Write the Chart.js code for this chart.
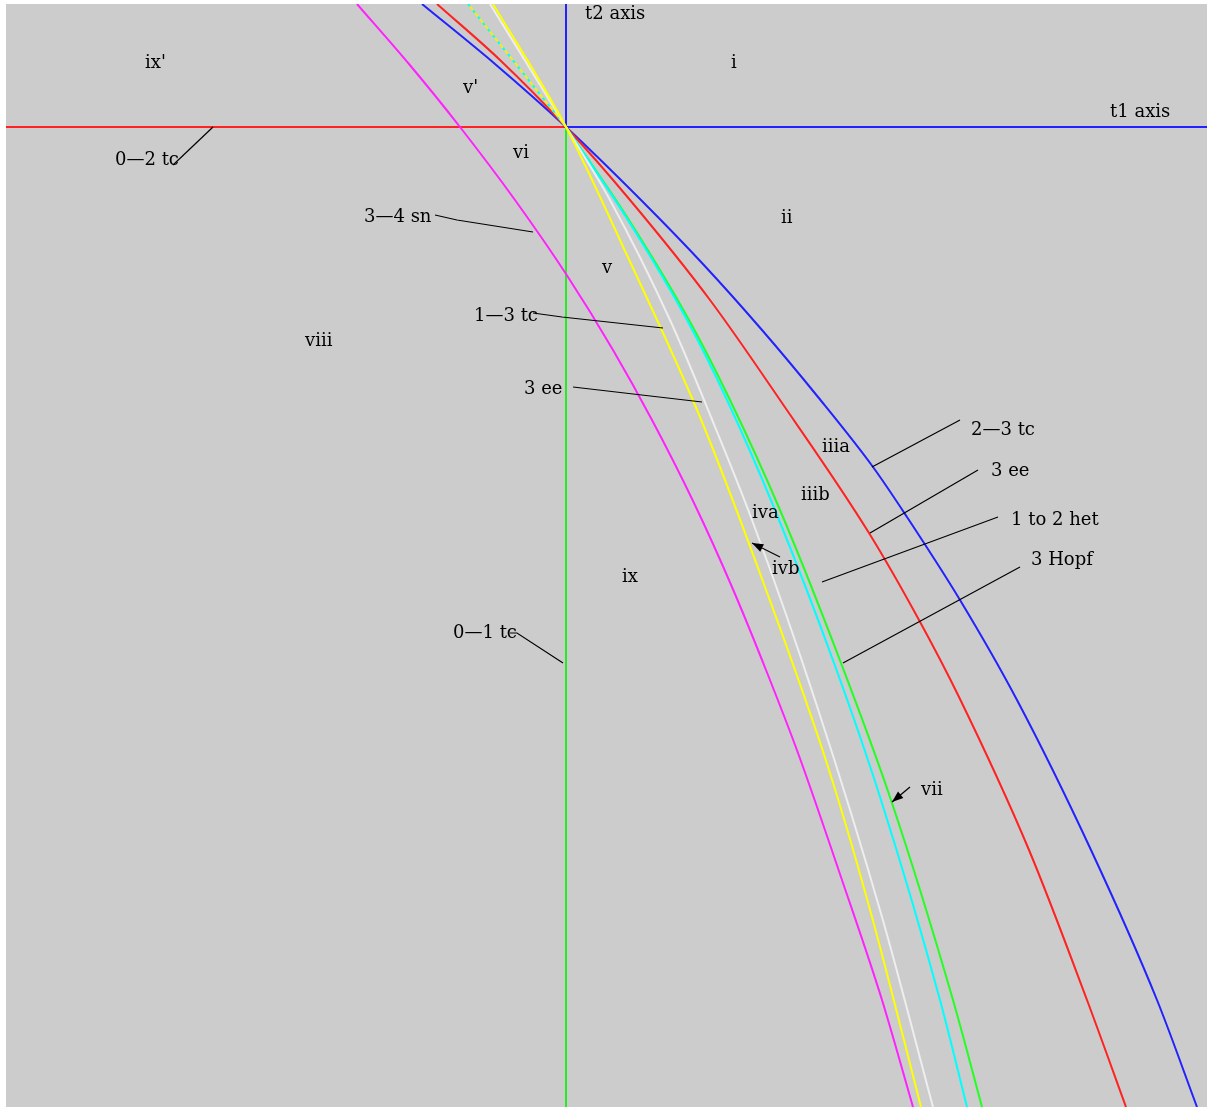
<!DOCTYPE html>
<html>
<head>
<meta charset="utf-8">
<script src="https://cdn.jsdelivr.net/npm/chart.js@4.4.1/dist/chart.umd.min.js"></script>
<style>
  body { margin: 0; background: #fff; }
  canvas { display: block; }
</style>
</head>
<body>
<canvas id="chart_0" width="1207" height="1110"></canvas>
<script>
// plot window (t1, t2), no ticks in the figure so units are arbitrary
var t1Range = [-5.60, 6.41];
var t2Range = [-9.80, 1.23];

// bifurcation curves as [t1, t2]
var blue23tc = [[-1.44,1.23],[-0.71,0.63],[0,0],[0.75,-0.73],[1.36,-1.36],[1.96,-2.03],[2.52,-2.70],[3.07,-3.40],
  [3.41,-3.90],[3.94,-4.73],[4.51,-5.73],[5.25,-7.23],[5.91,-8.73],[6.31,-9.80]];
var red3ee = [[-1.29,1.23],[-0.66,0.67],[0,0],[0.64,-0.73],[1.44,-1.73],[2.14,-2.73],[3.03,-4.06],[3.53,-4.93],
  [3.93,-5.70],[4.63,-7.23],[5.21,-8.73],[5.60,-9.80]];
var green3hopf = [[0,0],[0.61,-0.90],[1.23,-1.93],[1.64,-2.73],[2.14,-3.83],[2.75,-5.36],[3.25,-6.73],[3.87,-8.73],[4.16,-9.80]];
var cyanHet = [[0,0],[0.60,-0.90],[1.21,-1.93],[1.61,-2.73],[2.09,-3.83],[2.68,-5.36],[3.15,-6.73],[3.74,-8.73],[4.01,-9.80]];
var cyanUpper = [[-0.98,1.23],[0,0]];
var white3ee = [[-0.76,1.23],[0,0],[0.44,-0.73],[1.04,-1.93],[1.45,-2.90],[1.86,-3.93],[2.50,-5.76],[3.16,-7.90],[3.67,-9.80]];
var yellow13tc = [[-0.73,1.23],[0,0],[0.60,-1.26],[1.34,-2.90],[1.99,-4.60],[2.63,-6.43],[3.06,-7.90],[3.55,-9.80]];
var magenta34sn = [[-2.09,1.23],[-1.57,0.63],[-1.06,0],[-0.51,-0.73],[0.02,-1.50],[0.47,-2.23],[0.86,-2.93],[1.28,-3.76],
  [1.66,-4.60],[2.00,-5.43],[2.32,-6.26],[2.76,-7.53],[3.16,-8.73],[3.47,-9.80]];

// region names and curve names: [text, t1, t2]
var regionLabels = [
  ["t2 axis",0.19,1.13],["t1 axis",5.44,0.15],["ix'",-4.21,0.64],["i",1.65,0.64],["v'",-1.03,0.39],["vi",-0.53,-0.26],
  ["0\u20142 tc",-4.51,-0.33],["3\u20144 sn",-2.02,-0.90],["ii",2.15,-0.91],["v",0.36,-1.41],["1\u20143 tc",-0.92,-1.89],
  ["viii",-2.61,-2.14],["3 ee",-0.42,-2.62],["iiia",2.56,-3.20],["2\u20143 tc",4.05,-3.03],["3 ee",4.25,-3.44],
  ["iiib",2.35,-3.68],["iva",1.86,-3.86],["1 to 2 het",4.45,-3.93],["ivb",2.06,-4.42],["ix",0.56,-4.50],
  ["3 Hopf",4.65,-4.33],["0\u20141 tc",-1.13,-5.06],["vii",3.55,-6.63]
];
// leader lines from the names to the curves
var leaders = [
  [[-3.93,-0.38],[-3.53,0]],
  [[-1.31,-0.88],[-1.09,-0.93],[-0.33,-1.05]],
  [[-0.33,-1.86],[-0.04,-1.90],[0.97,-2.01]],
  [[0.07,-2.60],[1.36,-2.75]],
  [[3.94,-2.93],[3.06,-3.40]],
  [[4.12,-3.43],[3.04,-4.06]],
  [[4.32,-3.90],[2.56,-4.55]],
  [[4.54,-4.40],[2.77,-5.36]],
  [[-0.56,-5.06],[-0.49,-5.06],[-0.03,-5.36]]
];
var arrows = [
  [[2.14,-4.30],[1.86,-4.16]],
  [[3.44,-6.60],[3.26,-6.75]]
];

function pts(a) { return a.map(function (p) { return { x: p[0], y: p[1] }; }); }

function curve(data, color, extra) {
  var d = { data: pts(data), borderColor: color, borderWidth: 2, showLine: true, pointRadius: 0,
    cubicInterpolationMode: "monotone", fill: false };
  for (var k in extra) d[k] = extra[k];
  return d;
}

var background = {
  id: "background",
  beforeDraw: function (chart) {
    var a = chart.chartArea, ctx = chart.ctx;
    ctx.save();
    ctx.fillStyle = "#cccccc";
    ctx.fillRect(a.left, a.top, a.right - a.left, a.bottom - a.top);
    ctx.restore();
  }
};

var notes = {
  id: "notes",
  afterDatasetsDraw: function (chart) {
    var ctx = chart.ctx, xs = chart.scales.x, ys = chart.scales.y;
    function px(p) { return [xs.getPixelForValue(p[0]), ys.getPixelForValue(p[1])]; }
    ctx.save();
    ctx.strokeStyle = "#000";
    ctx.fillStyle = "#000";
    ctx.lineWidth = 1.2;
    leaders.concat(arrows).forEach(function (line) {
      ctx.beginPath();
      line.forEach(function (p, i) {
        var q = px(p);
        if (i === 0) ctx.moveTo(q[0], q[1]); else ctx.lineTo(q[0], q[1]);
      });
      ctx.stroke();
    });
    arrows.forEach(function (line) {
      var a = px(line[0]), b = px(line[1]);
      var ang = Math.atan2(b[1] - a[1], b[0] - a[0]);
      ctx.beginPath();
      ctx.moveTo(b[0], b[1]);
      ctx.lineTo(b[0] - 12 * Math.cos(ang - 0.35), b[1] - 12 * Math.sin(ang - 0.35));
      ctx.lineTo(b[0] - 12 * Math.cos(ang + 0.35), b[1] - 12 * Math.sin(ang + 0.35));
      ctx.closePath();
      ctx.fill();
    });
    ctx.font = '18px "DejaVu Serif"';
    ctx.textAlign = "left";
    ctx.textBaseline = "middle";
    regionLabels.forEach(function (l) {
      var q = px([l[1], l[2]]);
      ctx.fillText(l[0], q[0], q[1]);
    });
    ctx.restore();
  }
};

new Chart("chart_0", {
  type: "scatter",
  data: {
    datasets: [
      curve(magenta34sn, "#ff22ff"),
      curve(yellow13tc, "#ffff00"),
      curve(white3ee, "#eeeeee"),
      curve(cyanUpper, "#00ffff", { borderDash: [3, 5] }),
      curve(cyanUpper, "#eeee20"),
      curve(cyanHet, "#00ffff"),
      curve(green3hopf, "#22ff22"),
      curve(red3ee, "#ff2222"),
      curve(blue23tc, "#2222ff"),
      curve([[t1Range[0], 0], [0, 0]], "#ff2222"),
      curve([[0, 0], [t1Range[1], 0]], "#2222ff"),
      curve([[0, 0], [0, t2Range[1]]], "#2222ff"),
      curve([[0, t2Range[0]], [0, 0]], "#22ee22")
    ]
  },
  options: {
    responsive: false,
    animation: false,
    layout: { padding: { left: 6, top: 4, right: 0, bottom: 3 } },
    plugins: { legend: { display: false }, tooltip: { enabled: false } },
    scales: {
      x: { type: "linear", min: t1Range[0], max: t1Range[1], display: false },
      y: { type: "linear", min: t2Range[0], max: t2Range[1], display: false }
    }
  },
  plugins: [background, notes]
});
</script>
</body>
</html>
